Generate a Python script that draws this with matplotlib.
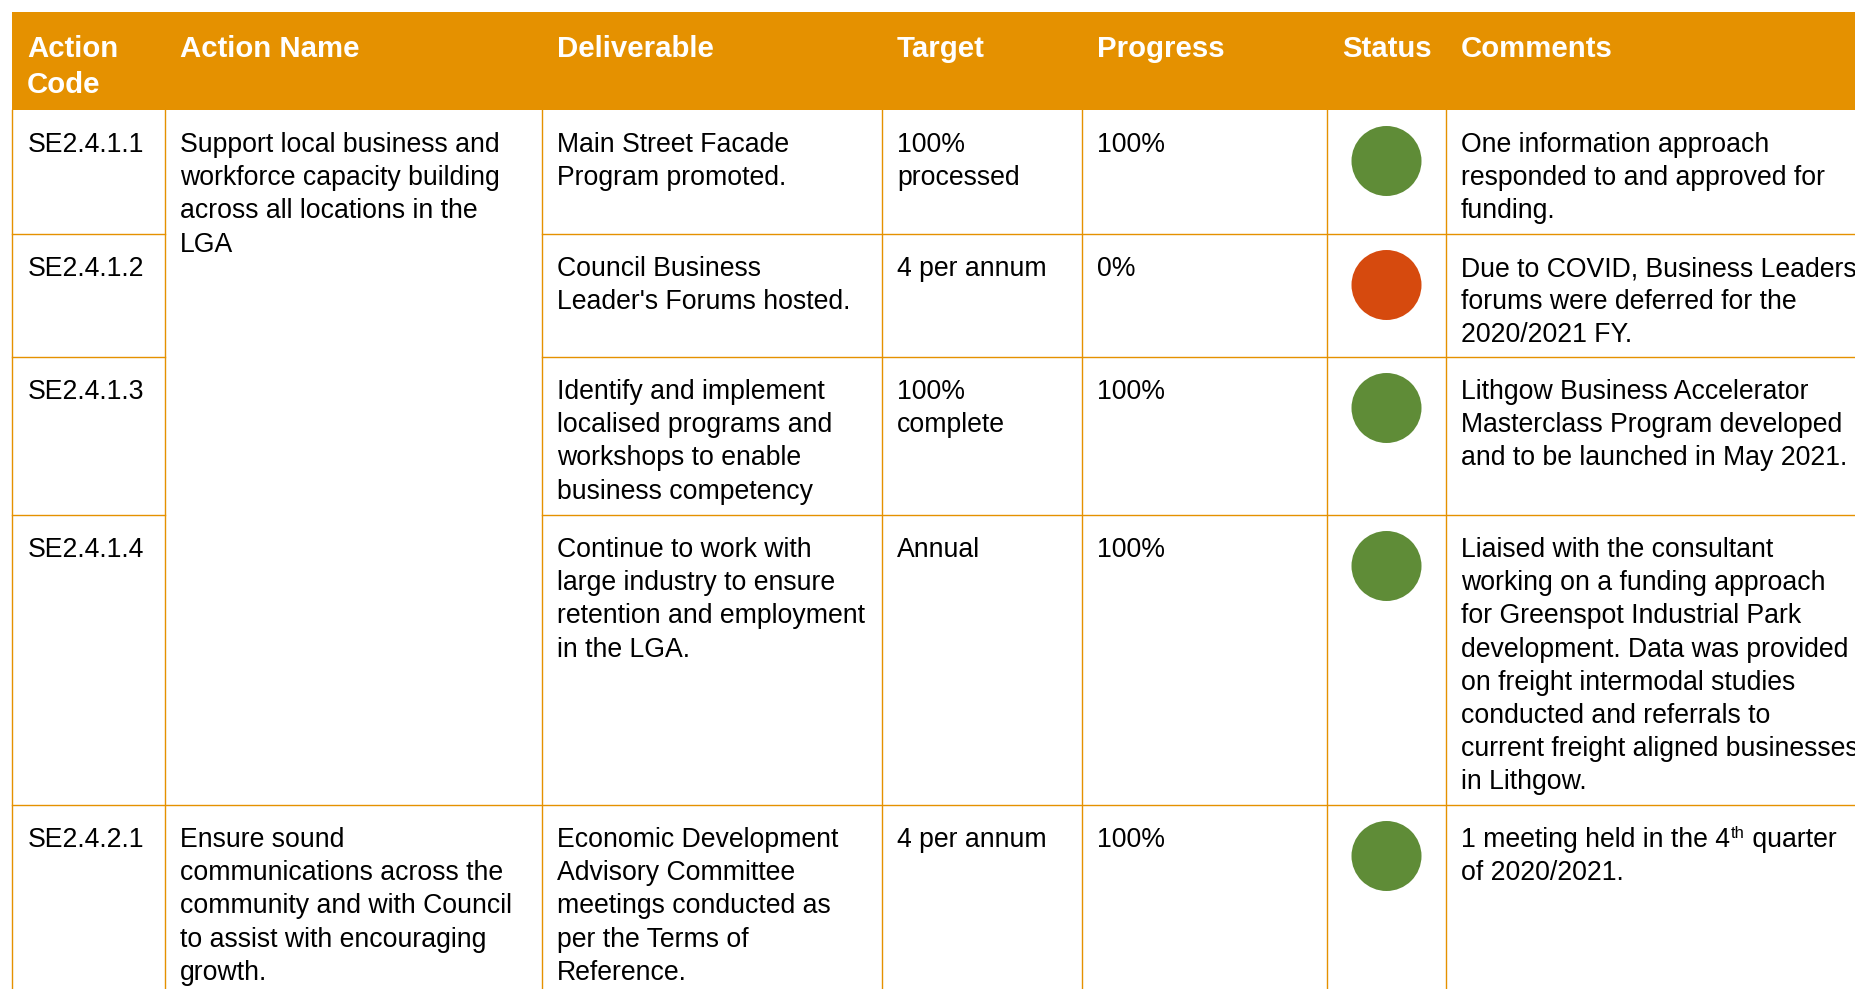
import matplotlib.pyplot as plt
from matplotlib.patches import Rectangle, Ellipse

plt.rcParams['font.family'] = ['Liberation Sans', 'DejaVu Sans']

# table content
headers = ['Action\nCode', 'Action Name', 'Deliverable', 'Target', 'Progress', 'Status', 'Comments']
codes = ['SE2.4.1.1', 'SE2.4.1.2', 'SE2.4.1.3', 'SE2.4.1.4', 'SE2.4.2.1']
action_names = ['Support local business and\nworkforce capacity building\nacross all locations in the\nLGA',
                'Ensure sound\ncommunications across the\ncommunity and with Council\nto assist with encouraging\ngrowth.']
action_spans = [(0, 4), (4, 5)]  # rows covered by each action name
deliverables = ['Main Street Facade\nProgram promoted.',
                "Council Business\nLeader's Forums hosted.",
                'Identify and implement\nlocalised programs and\nworkshops to enable\nbusiness competency',
                'Continue to work with\nlarge industry to ensure\nretention and employment\nin the LGA.',
                'Economic Development\nAdvisory Committee\nmeetings conducted as\nper the Terms of\nReference.']
targets = ['100%\nprocessed', '4 per annum', '100%\ncomplete', 'Annual', '4 per annum']
progress = ['100%', '0%', '100%', '100%', '100%']
status = ['on track', 'deferred', 'on track', 'on track', 'on track']
comments = ['One information approach\nresponded to and approved for\nfunding.',
            'Due to COVID, Business Leaders\nforums were deferred for the\n2020/2021 FY.',
            'Lithgow Business Accelerator\nMasterclass Program developed\nand to be launched in May 2021.',
            'Liaised with the consultant\nworking on a funding approach\nfor Greenspot Industrial Park\n'
            'development. Data was provided\non freight intermodal studies\nconducted and referrals to\n'
            'current freight aligned businesses\nin Lithgow.',
            '1 meeting held in the 4^th quarter\nof 2020/2021.']

# layout (pixels)
W, H = 1856, 989
col_x = [12, 165, 542, 882, 1082, 1327, 1446]
row_y = [110, 234, 357, 515, 805, H]
header_top = 12
pad_x = 15
line_step = 33.2
orange = '#E59100'
status_colors = {'on track': '#5F8C37', 'deferred': '#D64A0E'}
body_size = 19.2
head_size = 21.2

fig = plt.figure(figsize=(W / 100, H / 100), dpi=100)
ax = fig.add_axes([0, 0, 1, 1])
ax.set_xlim(0, W)
ax.set_ylim(H, 0)
ax.axis('off')
renderer = fig.canvas.get_renderer()


def put_lines(x, top, s, size=body_size, **kw):
    for i, line in enumerate(s.split('\n')):
        y = top + 42 + i * line_step
        if '^' in line:
            pre, rest = line.split('^', 1)
            sup, post = rest.split(' ', 1)
            t = ax.text(x, y, pre, fontsize=size, va='baseline', color='black')
            x1 = ax.transData.inverted().transform(
                (t.get_window_extent(renderer).x1, 0))[0]
            t2 = ax.text(x1 + 1, y - 9, sup, fontsize=size * 0.62, va='baseline')
            x2 = ax.transData.inverted().transform(
                (t2.get_window_extent(renderer).x1, 0))[0]
            ax.text(x2, y, ' ' + post, fontsize=size, va='baseline')
        else:
            ax.text(x, y, line, fontsize=size, va='baseline', color='black', **kw)


# header band
ax.add_patch(Rectangle((col_x[0], header_top), W - col_x[0], row_y[0] - header_top,
                       facecolor=orange, edgecolor='none'))
for cx, h in zip(col_x, headers):
    for i, line in enumerate(h.split('\n')):
        ax.text(cx + pad_x, header_top + 44.7 + i * 36, line,
                fontsize=head_size, fontweight='bold', color='white', va='baseline')

# grid lines
lw = 1.0
for cx in col_x:
    ax.plot([cx, cx], [row_y[0], H], color=orange, lw=lw)
for i, ry in enumerate(row_y[1:-1], start=1):
    starts_action = any(a == i for a, b in action_spans)
    if starts_action:
        ax.plot([col_x[0], W], [ry, ry], color=orange, lw=lw)
    else:
        ax.plot([col_x[0], col_x[1]], [ry, ry], color=orange, lw=lw)
        ax.plot([col_x[2], W], [ry, ry], color=orange, lw=lw)

# cell contents
for i in range(len(codes)):
    top = row_y[i]
    put_lines(col_x[0] + pad_x + 1, top, codes[i])
    put_lines(col_x[2] + pad_x, top, deliverables[i])
    put_lines(col_x[3] + pad_x, top, targets[i])
    put_lines(col_x[4] + pad_x, top, progress[i])
    put_lines(col_x[6] + pad_x, top, comments[i])
    cx = (col_x[5] + col_x[6]) / 2
    ax.add_patch(Ellipse((cx, top + 51), 70, 70,
                         facecolor=status_colors[status[i]], edgecolor='none'))

for name, (a, b) in zip(action_names, action_spans):
    put_lines(col_x[1] + pad_x, row_y[a], name)

fig.savefig('out.png', dpi=100)
